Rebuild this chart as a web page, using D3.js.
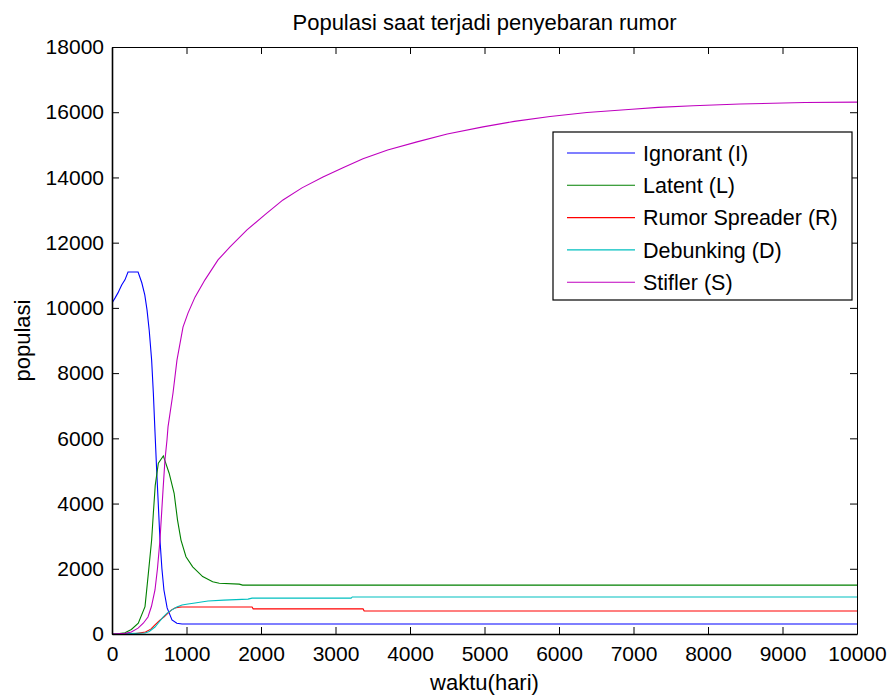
<!doctype html>
<html>
  <head>
    <meta charset="utf-8"/>
    <title>Populasi saat terjadi penyebaran rumor</title>
    <style>
      body, html {
        margin: 0;
        padding: 0;
        background: white;
      }
      svg text {
        font-family: "Liberation Sans", Arial, sans-serif;
        fill: #000;
      }
      .axis path, .axis line {
        stroke: #000;
      }
      .series {
        fill: none;
        stroke-width: 1.1;
      }
    </style>
    <script src="https://d3js.org/d3.v7.min.js"></script>
  </head>
  <body>
    <svg width="890" height="695"></svg>
    <script>
      // data: [waktu (hari), populasi]
      var ignorant = [[0,10150],[40,10300],[80,10460],[130,10700],[174,10860],[215,11100],[350,11100],
        [400,10770],[440,10400],[470,9940],[500,9300],[532,8400],[555,7390],[577,6200],[600,5000],
        [622,3950],[644,2880],[670,2000],[697,1350],[740,800],[805,430],[870,330],[940,307],[10000,307]];
      var latent = [[0,0],[100,15],[174,40],[260,140],[353,330],[443,840],[488,1860],[532,2880],
        [555,3700],[580,4550],[622,5240],[689,5460],[767,4930],[834,4315],[857,3900],[879,3500],
        [926,2880],[993,2370],[1083,2060],[1217,1760],[1351,1600],[1440,1555],[1708,1530],
        [1753,1500],[10000,1500]];
      var spreader = [[0,0],[300,5],[450,60],[520,150],[577,280],[640,420],[700,530],[752,640],
        [800,740],[845,800],[900,825],[940,830],[1880,830],[1895,770],[3370,770],[3385,705],[10000,705]];
      var debunking = [[0,0],[443,30],[500,80],[577,215],[630,360],[685,520],[740,640],[805,740],
        [870,830],[940,890],[1020,920],[1114,950],[1200,980],[1289,1010],[1500,1040],[1826,1070],
        [1880,1100],[3210,1100],[3225,1135],[10000,1135]];
      var stifler = [[0,0],[175,20],[260,60],[350,180],[420,330],[483,520],[530,850],[577,1350],
        [610,2000],[644,2880],[685,4420],[711,5340],[738,5950],[752,6350],[819,7390],[872,8400],
        [953,9410],[1020,9840],[1114,10330],[1248,10860],[1423,11470],[1584,11870],[1812,12390],
        [2050,12850],[2295,13310],[2550,13680],[2832,14010],[3100,14300],[3369,14570],[3700,14840],
        [4094,15090],[4500,15330],[4980,15550],[5400,15720],[5880,15870],[6375,15990],[6980,16090],
        [7330,16150],[7800,16200],[8430,16250],[9300,16300],[10000,16310]];

      var seriesNames = ["Ignorant (I)", "Latent (L)", "Rumor Spreader (R)", "Debunking (D)", "Stifler (S)"];
      var seriesColors = ["#0000ff", "#008000", "#ff0000", "#00bfbf", "#bf00bf"];
      var xTicks = [0, 1000, 2000, 3000, 4000, 5000, 6000, 7000, 8000, 9000, 10000];
      var yTicks = [0, 2000, 4000, 6000, 8000, 10000, 12000, 14000, 16000, 18000];

      var series = [ignorant, latent, spreader, debunking, stifler];

      var svg = d3.select("svg"),
          margin = {top: 47, right: 33, bottom: 61, left: 112},
          width = +svg.attr("width") - margin.left - margin.right,
          height = +svg.attr("height") - margin.top - margin.bottom;

      var x = d3.scaleLinear().domain([0, 10000]).range([0, width]),
          y = d3.scaleLinear().domain([0, 18000]).range([height, 0]);

      var g = svg.append("g")
        .attr("transform", "translate(" + margin.left + "," + margin.top + ")");

      svg.append("defs").append("clipPath").attr("id", "clip")
        .append("rect").attr("width", width).attr("height", height);

      var line = d3.line()
        .x(function(d) { return x(d[0]); })
        .y(function(d) { return y(d[1]); });

      g.append("g").attr("clip-path", "url(#clip)")
        .selectAll(".series")
        .data(series)
        .enter().append("path")
          .attr("class", "series")
          .attr("stroke", function(d, i) { return seriesColors[i]; })
          .attr("d", line);

      // axes, ticks pointing inward like matlab
      g.append("g")
        .attr("class", "axis")
        .attr("transform", "translate(0," + height + ")")
        .call(d3.axisBottom(x).tickValues(xTicks).tickFormat(d3.format("d"))
          .tickSizeInner(-7).tickSizeOuter(0).tickPadding(12))
        .call(function(a) {
          a.select(".domain").attr("stroke-width", 1.6);
          a.selectAll("text").style("font-size", "21px");
        });

      g.append("g")
        .attr("class", "axis")
        .call(d3.axisLeft(y).tickValues(yTicks).tickFormat(d3.format("d"))
          .tickSizeInner(-7).tickSizeOuter(0).tickPadding(8))
        .call(function(a) {
          a.select(".domain").attr("stroke-width", 1.6);
          a.selectAll("text").style("font-size", "21px");
        });

      g.append("g")
        .attr("class", "axis")
        .call(d3.axisTop(x).tickValues(xTicks).tickFormat("")
          .tickSizeInner(-7).tickSizeOuter(0));

      g.append("g")
        .attr("class", "axis")
        .attr("transform", "translate(" + width + ",0)")
        .call(d3.axisRight(y).tickValues(yTicks).tickFormat("")
          .tickSizeInner(-7).tickSizeOuter(0));

      // titles
      svg.append("text")
        .attr("x", margin.left + width / 2)
        .attr("y", 30)
        .attr("text-anchor", "middle")
        .style("font-size", "22px")
        .text("Populasi saat terjadi penyebaran rumor");

      svg.append("text")
        .attr("x", margin.left + width / 2)
        .attr("y", 690)
        .attr("text-anchor", "middle")
        .style("font-size", "22px")
        .text("waktu(hari)");

      svg.append("text")
        .attr("transform", "translate(30," + (margin.top + height / 2) + ") rotate(-90)")
        .attr("text-anchor", "middle")
        .style("font-size", "22px")
        .text("populasi");

      // legend
      var legend = svg.append("g").attr("transform", "translate(553,132)");

      legend.append("rect")
        .attr("width", 299)
        .attr("height", 168)
        .attr("fill", "white")
        .attr("stroke", "#000")
        .attr("stroke-width", 1.2);

      var item = legend.selectAll(".item")
        .data(seriesNames)
        .enter().append("g")
          .attr("class", "item")
          .attr("transform", function(d, i) { return "translate(0," + (21 + i * 32.3) + ")"; });

      item.append("line")
        .attr("x1", 14).attr("x2", 82)
        .attr("stroke", function(d, i) { return seriesColors[i]; })
        .attr("stroke-width", 1.1);

      item.append("text")
        .attr("x", 90)
        .attr("dy", "0.36em")
        .style("font-size", "21.5px")
        .text(function(d) { return d; });
    </script>
  </body>
</html>
